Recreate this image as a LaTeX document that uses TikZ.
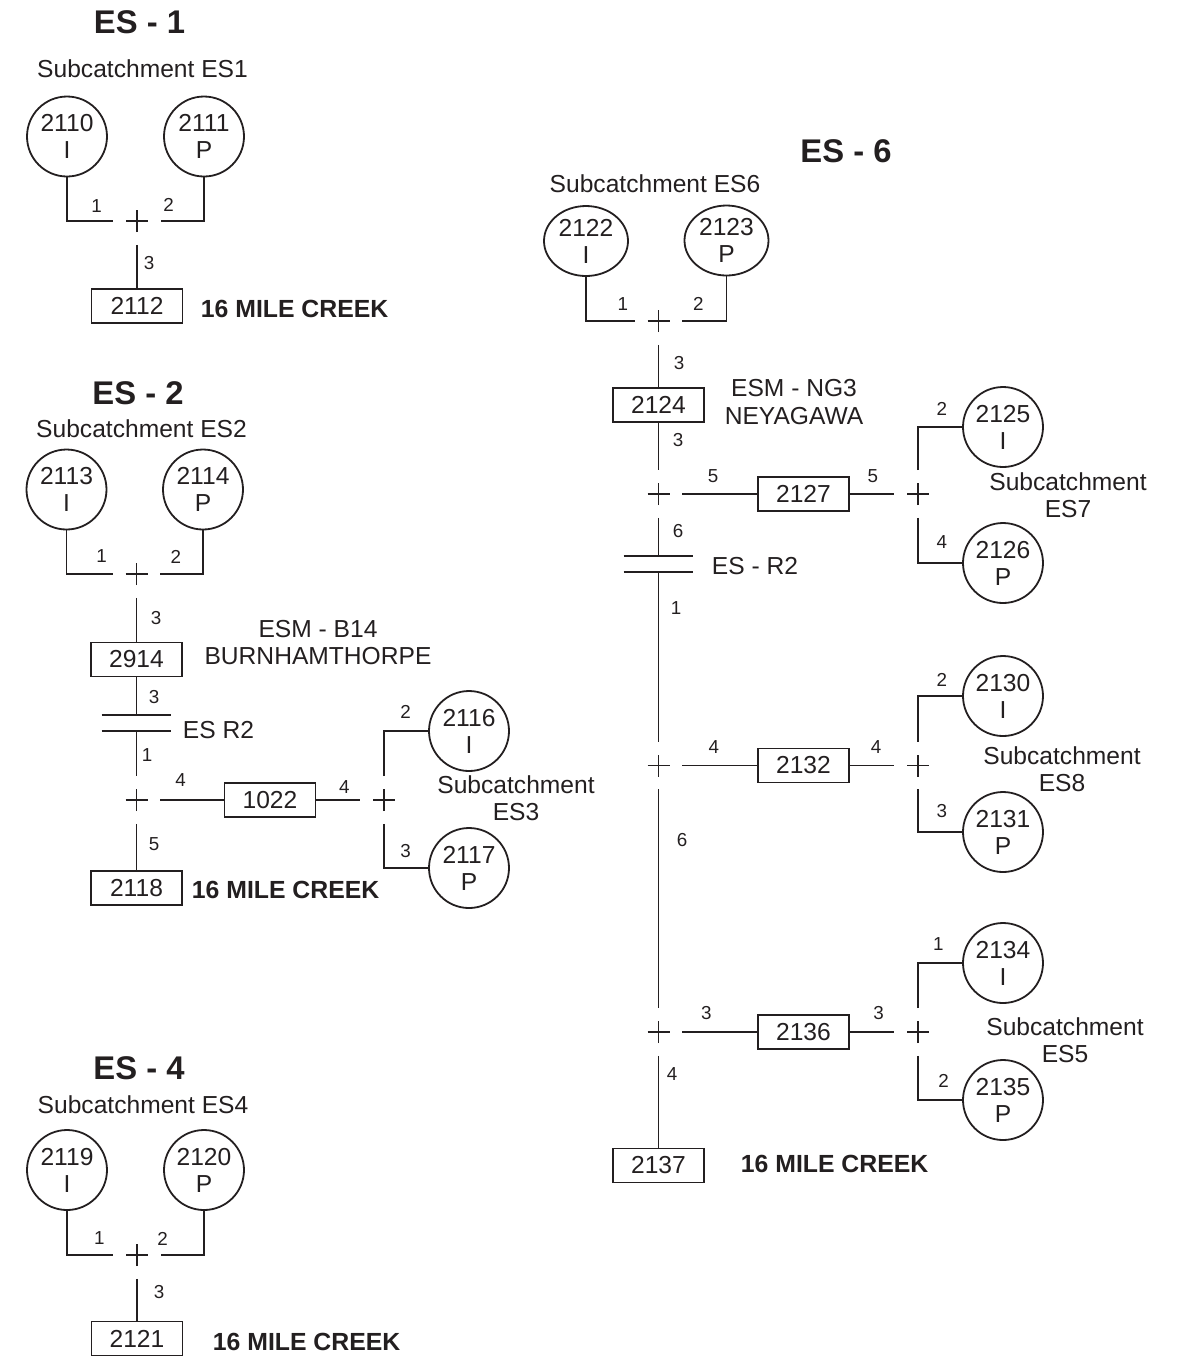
\documentclass[tikz,border=0pt]{standalone}
\usepackage{fontspec}
\setmainfont{Liberation Sans}
\usepackage{tikz}
\usetikzlibrary{shapes.geometric,calc}
\definecolor{ink}{RGB}{35,31,32}
\newcommand\numfont{\fontsize{12.3}{13.6}\selectfont}
\newcommand\lblfont{\fontsize{9.4}{10}\selectfont}
\newcommand\ttlfont{\fontsize{16.4}{18}\selectfont\bfseries}
\newcommand\outletfont{\fontsize{12.4}{14}\selectfont\bfseries}
\tikzset{
  basin/.style={draw,circle,minimum size=40pt,inner sep=0pt,align=center,font=\numfont},
  basinwide/.style={draw,ellipse,minimum width=42pt,minimum height=35pt,inner sep=0pt,align=center,font=\numfont},
  conduit/.style={draw,rectangle,minimum width=45.5pt,minimum height=17pt,inner sep=0pt,font=\numfont},
  junction/.style={minimum size=23pt,inner sep=0pt,path picture={
      \draw ([xshift=-5.5pt]path picture bounding box.center) -- ([xshift=5.5pt]path picture bounding box.center)
            ([yshift=-5.5pt]path picture bounding box.center) -- ([yshift=5.5pt]path picture bounding box.center);}},
  storage/.style={minimum width=34pt,minimum height=7pt,inner sep=0pt},
  lbl/.style={font=\lblfont,inner sep=1.5pt},
  title/.style={font=\ttlfont},
  note/.style={font=\numfont,align=center,inner sep=0pt},
  outlet/.style={font=\outletfont,anchor=west,inner sep=0pt}
}
\begin{document}
\begin{tikzpicture}[x=0.5pt,y=-0.5pt,color=ink,line width=0.9pt]
\useasboundingbox (0,0) rectangle (1186,1357);
% ES-1
\node[title] (t1) at (139.5,22) {ES - 1};
\node[note] (sc1) at (142.5,69) {Subcatchment ES1};
\node[basin] (c2110) at (67,136.5) {2110\\I};
\node[basin] (c2111) at (204,136.5) {2111\\P};
\node[junction] (j1) at (137,221) {};
\node[conduit] (b2112) at (137,306) {2112};
\node[outlet] (o1) at (200,309) {16 MILE CREEK};
\draw (c2110.south) |- node[lbl,pos=.82,above=2.25pt]{1} (j1.west);
\draw (c2111.south) |- node[lbl,pos=.91,above=2.75pt]{2} (j1.east);
\draw (j1.south) -- node[lbl,pos=.42,right=1.5pt]{3} (b2112.north);
% ES-2
\node[title] (t2) at (138,393) {ES - 2};
\node[note] (sc2) at (141.5,429) {Subcatchment ES2};
\node[basin] (c2113) at (66.5,489.5) {2113\\I};
\node[basin] (c2114) at (203,489.5) {2114\\P};
\node[junction] (j2) at (136.5,574) {};
\node[conduit] (b2914) at (136.5,659.5) {2914};
\node[note] (m2) at (318,642.5) {ESM - B14\\BURNHAMTHORPE};
\node[storage] (r2) at (136.5,723) {};
\node[note,anchor=west] (rl2) at (182,730) {ES R2};
\node[junction] (j3) at (136.5,800) {};
\node[conduit] (b2118) at (136.5,888) {2118};
\node[outlet] (o2) at (191,890) {16 MILE CREEK};
\node[conduit] (b1022) at (270,800) {1022};
\node[junction] (j4) at (384,800) {};
\node[basin] (c2116) at (469,731) {2116\\I};
\node[basin] (c2117) at (469,868) {2117\\P};
\node[note] (sc3) at (516,798) {Subcatchment\\ES3};
\draw (c2113.south) |- node[lbl,pos=.88,above=3.75pt]{1} (j2.west);
\draw (c2114.south) |- node[lbl,pos=.82,above=3.25pt]{2} (j2.east);
\draw (j2.south) -- node[lbl,pos=.47,right=5.25pt]{3} (b2914.north);
\draw (b2914.south) -- node[lbl,pos=.51,right=4.25pt]{3} (r2.north);
\draw (r2.north west) -- (r2.north east) (r2.south west) -- (r2.south east);
\draw (r2.south) -- node[lbl,pos=.53,right=.75pt]{1} (j3.north);
\draw (j3.south) -- node[lbl,pos=.44,right=4.25pt]{5} (b2118.north);
\draw (j3.east) -- node[lbl,pos=.32,above=4.75pt]{4} (b1022.west);
\draw (b1022.east) -- node[lbl,pos=.64,above=1.25pt]{4} (j4.west);
\draw (j4.north) |- node[lbl,pos=.745,above=4.25pt]{2} (c2116.west);
\draw (j4.south) |- node[lbl,pos=.745,above=3.25pt]{3} (c2117.west);
% ES-4
\node[title] (t4) at (139,1068) {ES - 4};
\node[note] (sc4) at (143,1105) {Subcatchment ES4};
\node[basin] (c2119) at (67,1170) {2119\\I};
\node[basin] (c2120) at (204,1170) {2120\\P};
\node[junction] (j5) at (137,1255) {};
\node[conduit] (b2121) at (137,1338.5) {2121};
\node[outlet] (o4) at (212,1342) {16 MILE CREEK};
\draw (c2119.south) |- node[lbl,pos=.85,above=3.25pt]{1} (j5.west);
\draw (c2120.south) |- node[lbl,pos=.98,above=2.75pt]{2} (j5.east);
\draw (j5.south) -- node[lbl,pos=.32,right=6.5pt]{3} (b2121.north);
% ES-6
\node[title] (t6) at (846,151) {ES - 6};
\node[note] (sc6) at (655,184) {Subcatchment ES6};
\node[basinwide] (c2122) at (586,241) {2122\\I};
\node[basinwide] (c2123) at (726.5,240.5) {2123\\P};
\node[junction] (j6) at (658.5,321) {};
\node[conduit] (b2124) at (658.5,405) {2124};
\node[note] (m6) at (794,402) {ESM - NG3\\NEYAGAWA};
\node[junction] (j7) at (658.5,494) {};
\node[conduit] (b2127) at (803.5,494) {2127};
\node[junction] (j8) at (918,494) {};
\node[basin] (c2125) at (1003,427) {2125\\I};
\node[basin] (c2126) at (1003,563) {2126\\P};
\node[note] (sc7) at (1068,495.5) {Subcatchment\\ES7};
\node[storage] (r6) at (658.5,564) {};
\node[note,anchor=west] (rl6) at (711,566) {ES - R2};
\node[junction] (j9) at (658.5,765.5) {};
\node[conduit] (b2132) at (803.5,765.5) {2132};
\node[junction] (j10) at (918,765.5) {};
\node[basin] (c2130) at (1003,696) {2130\\I};
\node[basin] (c2131) at (1003,832) {2131\\P};
\node[note] (sc8) at (1062,769) {Subcatchment\\ES8};
\node[junction] (j11) at (658.5,1032) {};
\node[conduit] (b2136) at (803.5,1032) {2136};
\node[junction] (j12) at (918,1032) {};
\node[basin] (c2134) at (1003,963) {2134\\I};
\node[basin] (c2135) at (1003,1100) {2135\\P};
\node[note] (sc5) at (1065,1040) {Subcatchment\\ES5};
\node[conduit] (b2137) at (658.5,1165.5) {2137};
\node[outlet] (o6) at (740,1164) {16 MILE CREEK};
\draw (c2122.south) |- node[lbl,pos=.88,above=3.25pt]{1} (j6.west);
\draw (c2123.south) |- node[lbl,pos=.82,above=3.25pt]{2} (j6.east);
\draw (j6.south) -- node[lbl,pos=.43,right=5.75pt]{3} (b2124.north);
\draw (b2124.south) -- node[lbl,pos=.37,right=5.25pt]{3} (j7.north);
\draw (j7.east) -- node[lbl,pos=.41,above=3.75pt]{5} (b2127.west);
\draw (b2127.east) -- node[lbl,pos=.52,above=3.75pt]{5} (j8.west);
\draw (j8.north) |- node[lbl,pos=.77,above=3.75pt]{2} (c2125.west);
\draw (j8.south) |- node[lbl,pos=.77,above=5.25pt]{4} (c2126.west);
\draw (j7.south) -- node[lbl,pos=.35,right=5.25pt]{6} (r6.north);
\draw (r6.north west) -- (r6.north east) (r6.south west) -- (r6.south east);
\draw (r6.south) -- node[lbl,pos=.21,right=4.25pt]{1} (j9.north);
\draw (j9.east) -- node[lbl,pos=.42,above=4.25pt]{4} (b2132.west);
\draw (b2132.east) -- node[lbl,pos=.59,above=4.25pt]{4} (j10.west);
\draw (j10.north) |- node[lbl,pos=.77,above=2.75pt]{2} (c2130.west);
\draw (j10.south) |- node[lbl,pos=.77,above=5.25pt]{3} (c2131.west);
\draw (j9.south) -- node[lbl,pos=.23,right=7.25pt]{6} (j11.north);
\draw (j11.east) -- node[lbl,pos=.32,above=4.25pt]{3} (b2136.west);
\draw (b2136.east) -- node[lbl,pos=.65,above=4.25pt]{3} (j12.west);
\draw (j12.north) |- node[lbl,pos=.73,above=4.25pt]{1} (c2134.west);
\draw (j12.south) |- node[lbl,pos=.79,above=4.25pt]{2} (c2135.west);
\draw (j11.south) -- node[lbl,pos=.2,right=2.25pt]{4} (b2137.north);
\end{tikzpicture}
\end{document}
